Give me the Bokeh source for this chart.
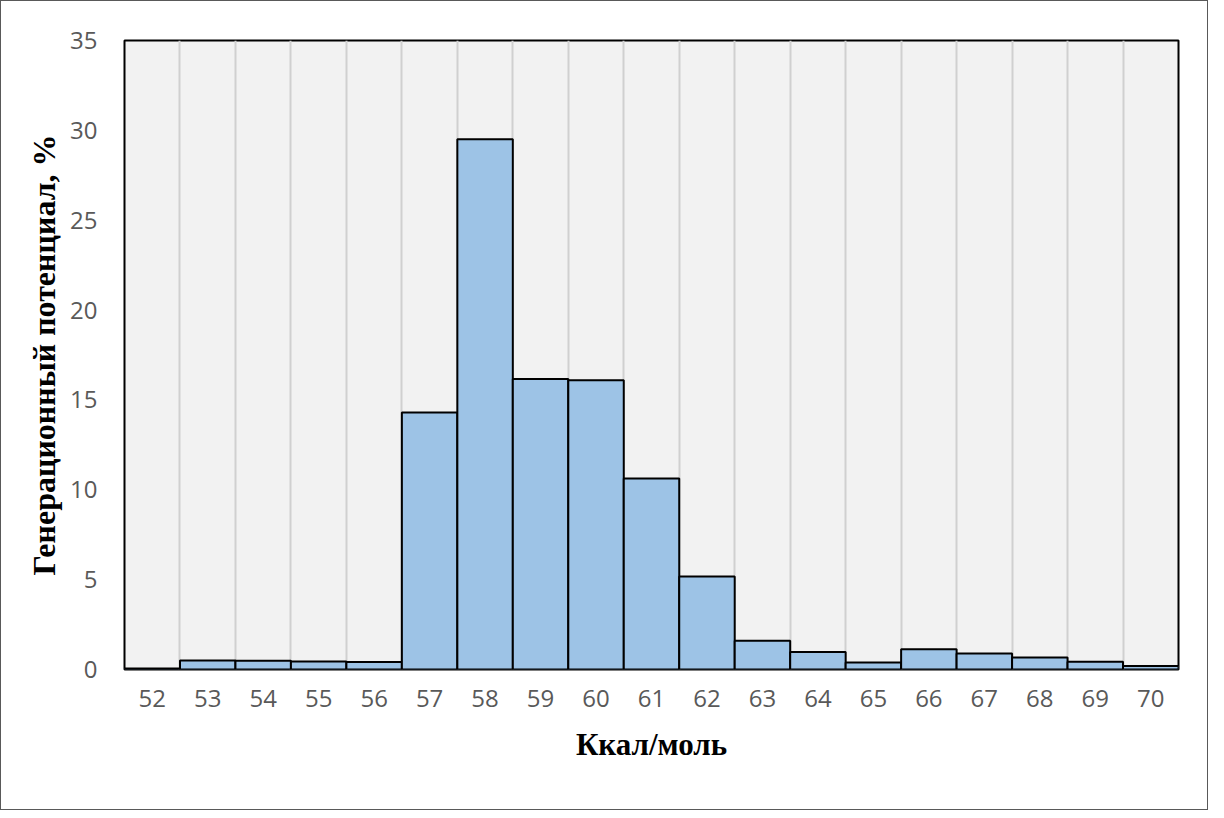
from bokeh.plotting import figure
from bokeh.models import FixedTicker, Range1d, ColumnDataSource
from bokeh.embed import file_html
from bokeh.resources import INLINE

categories = [52, 53, 54, 55, 56, 57, 58, 59, 60, 61, 62, 63, 64, 65, 66, 67, 68, 69, 70]
values = [0.05, 0.5, 0.48, 0.45, 0.42, 14.3, 29.5, 16.17, 16.1, 10.63, 5.17, 1.6, 0.98, 0.39, 1.13, 0.89, 0.67, 0.43, 0.2]
y_ticks = [0, 5, 10, 15, 20, 25, 30, 35]
x_title = "Ккал/моль"
y_title = "Генерационный потенциал, %"

src = ColumnDataSource(dict(x=categories, y=values))

p = figure(width=1208, height=810, output_backend="svg", toolbar_location=None,
           x_range=Range1d(categories[0] - 0.5, categories[-1] + 0.5),
           y_range=Range1d(0, 35),
           min_border_left=123, min_border_top=39, min_border_right=31, min_border_bottom=142)
p.styles = {"border": "1.5px solid #595959", "box-sizing": "border-box"}

p.background_fill_color = "#f2f2f2"
p.border_fill_color = "white"
p.outline_line_color = "black"
p.outline_line_width = 2

p.vbar(x="x", top="y", width=1.0, bottom=0, source=src,
       fill_color="#9dc3e6", line_color="black", line_width=2)

p.ygrid.grid_line_color = None
p.xgrid.ticker = FixedTicker(ticks=[c + 0.5 for c in categories[:-1]])
p.xgrid.grid_line_color = "#d0d0d0"
p.xgrid.grid_line_width = 2
p.xgrid.level = "underlay"

p.xaxis.ticker = FixedTicker(ticks=categories)
p.yaxis.ticker = FixedTicker(ticks=y_ticks)

for ax in (p.xaxis[0], p.yaxis[0]):
    ax.axis_line_color = None
    ax.major_tick_line_color = None
    ax.minor_tick_line_color = None
    ax.major_tick_out = 0
    ax.major_tick_in = 0
    ax.major_label_text_font = "Open Sans"
    ax.major_label_text_font_size = "24px"
    ax.major_label_text_color = "#595959"
    ax.axis_label_text_font = "Liberation Serif"
    ax.axis_label_text_font_style = "bold"
    ax.axis_label_text_color = "black"

p.xaxis.axis_label_text_font_size = "31px"
p.yaxis.axis_label_text_font_size = "32px"
p.xaxis.major_label_standoff = 20
p.yaxis.major_label_standoff = 27
p.xaxis.axis_label = x_title
p.yaxis.axis_label = y_title
p.xaxis.axis_label_standoff = 17
p.yaxis.axis_label_standoff = 5

open("out.html", "w").write(file_html(p, INLINE))
